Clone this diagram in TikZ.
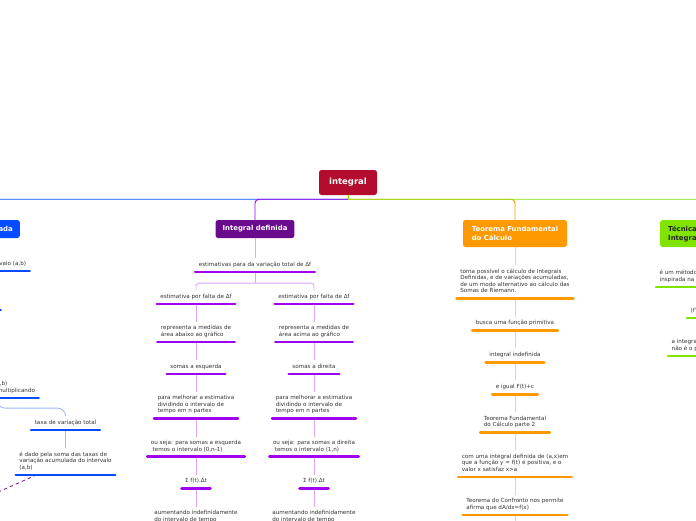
\documentclass[tikz,border=0pt]{standalone}
\usepackage{fontspec}
\setmainfont{DejaVu Sans}
\usetikzlibrary{positioning}
\definecolor{rootred}{RGB}{180,12,45}
\definecolor{defpurple}{RGB}{106,10,140}
\definecolor{vivpurple}{RGB}{160,0,240}
\definecolor{palepurple}{RGB}{218,165,250}
\definecolor{tfcorange}{RGB}{255,153,0}
\definecolor{paleorange}{RGB}{255,205,140}
\definecolor{acumblue}{RGB}{5,75,255}
\definecolor{paleblue}{RGB}{160,185,255}
\definecolor{tecgreen}{RGB}{128,228,0}
\definecolor{palegreen}{RGB}{195,240,140}
\definecolor{relpurple}{RGB}{112,48,160}
\definecolor{leaftext}{RGB}{50,50,50}
\newcommand{\leaffont}{\fontsize{5.6}{6.5}\selectfont}
\newcommand{\topicfont}{\fontsize{6.9}{9}\selectfont\bfseries}

\begin{document}
\begin{tikzpicture}[
  x=1pt, y=-1pt,
  topic/.style={rounded corners=2.5pt, text=white, font=\topicfont, align=left, inner xsep=7pt, minimum height=18pt},
  leaf/.style={font=\leaffont, text=leaftext, align=left, inner xsep=3.5pt, inner ysep=3.5pt,
    execute at begin node=\strut, execute at end node=\strut},
  uline/.style={line width=2.6pt, line cap=round, draw=#1},
  trunk/.style={line width=0.9pt, draw=#1, rounded corners=4pt},
  lnk/.style={line width=0.9pt, draw=#1},
  rel/.style={draw=relpurple, line width=0.9pt, dash pattern=on 3.5pt off 3pt}
]
\path[use as bounding box, clip] (0,0) rectangle (696,520);

% central topic and main branches
\node[topic, fill=rootred, font=\fontsize{8.5}{10}\selectfont\bfseries, minimum width=58pt, minimum height=25pt] (root) at (348,182.5) {integral};
\node[topic, fill=acumblue, anchor=east] (acum) at (20,229) {Variação acumulada};
\node[topic, fill=defpurple] (def) at (255,229) {Integral definida};
\node[topic, fill=tfcorange, minimum width=104pt, minimum height=27pt] (tfc) at (515,233.5) {Teorema Fundamental\\do Cálculo};
\node[topic, fill=tecgreen, text=black!85, text width=86pt, inner xsep=8pt, minimum height=27pt, anchor=west] (tecnicas) at (660,233.5) {Técnicas de\\Integração};
\coordinate[below=4pt of root] (hub);

\draw[trunk=acumblue] (hub) -| (acum.north);
\draw[trunk=vivpurple] (hub) -| (def.north);
\draw[trunk=tfcorange] (hub) -| (tfc.north);
\draw[trunk=tecgreen] (hub) -| (tecnicas.north);
\draw[lnk=tecgreen] (root.south) -- (hub);

% Integral definida
\node[leaf, below=20pt of def] (est) {estimativas para da variação total de Δf};
\coordinate[below=11pt of est] (split);
\node[leaf, below=18pt of est, xshift=-59pt] (faltaE) {estimativa por falta de Δf};
\node[leaf, below=18pt of faltaE] (abaixo) {representa a medidas de\\área abaixo ao gráfico};
\node[leaf, below=18pt of abaixo] (somaEsq) {somas a esquerda};
\node[leaf, below=18pt of somaEsq] (melhorE) {para melhorar a estimativa\\dividindo o intervalo de\\tempo em n partes};
\node[leaf, below=18pt of melhorE] (sejaE) {ou seja: para somas a esquerda\\\ temos o intervalo (0,n-1)};
\node[leaf, below=18pt of sejaE] (sigmaE) {Σ f(t).Δt};
\node[leaf, below=18pt of sigmaE] (aumE) {aumentando indefinidamente\\do intervalo de tempo};
\node[leaf, below=18pt of est, xshift=59pt] (faltaD) {estimativa por falta de Δf};
\node[leaf, below=18pt of faltaD] (acima) {representa a medidas de\\área acima ao gráfico};
\node[leaf, below=18pt of acima] (somaDir) {somas a direita};
\node[leaf, below=18pt of somaDir] (melhorD) {para melhorar a estimativa\\dividindo o intervalo de\\tempo em n partes};
\node[leaf, below=18pt of melhorD] (sejaD) {ou seja: para somas a direita\\\ temos o intervalo (1,n)};
\node[leaf, below=18pt of sejaD] (sigmaD) {Σ f(t).Δt};
\node[leaf, below=18pt of sigmaD] (aumD) {aumentando indefinidamente\\do intervalo de tempo};

\draw[lnk=palepurple] (def.south) -- (est.north);
\draw[lnk=palepurple] (est.south) -- (split);
\draw[lnk=palepurple, rounded corners=3pt] (faltaE.north) |- (split) -| (faltaD.north);
\foreach \a/\b in {faltaE/abaixo, abaixo/somaEsq, somaEsq/melhorE, melhorE/sejaE, sejaE/sigmaE, sigmaE/aumE,
                   faltaD/acima, acima/somaDir, somaDir/melhorD, melhorD/sejaD, sejaD/sigmaD, sigmaD/aumD}
  \draw[lnk=palepurple] (\a.south) -- (\b.north);
\foreach \n in {est, faltaE, abaixo, somaEsq, melhorE, sejaE, sigmaE, aumE,
                faltaD, acima, somaDir, melhorD, sejaD, sigmaD, aumD}
  \draw[uline=vivpurple] (\n.south west) -- (\n.south east);

% Teorema Fundamental do Calculo
\node[leaf, below=18pt of tfc] (torna) {torna possível o cálculo de Integrais\\Definidas, e de variações acumuladas,\\de um modo alternativo ao cálculo das\\Somas de Riemann.};
\node[leaf, below=18pt of torna] (busca) {busca uma função primitiva};
\node[leaf, below=18pt of busca] (indef) {integral indefinida};
\node[leaf, below=18pt of indef] (igual) {e igual F(t)+c};
\node[leaf, below=18pt of igual] (parte2) {Teorema Fundamental\\do Cálculo parte 2};
\node[leaf, below=18pt of parte2] (comint) {com uma integral definida de (a,x)em\\que a função y = f(t) é positiva, e o\\valor x satisfaz x>a};
\node[leaf, below=18pt of comint] (confronto) {Teorema do Confronto nos permite\\afirma que dA/dx=f(x)};
\coordinate[below=18pt of confronto] (tfcmore);

\draw[lnk=paleorange] (tfc.south) -- (torna.north);
\foreach \a/\b in {torna/busca, busca/indef, indef/igual, igual/parte2, parte2/comint, comint/confronto}
  \draw[lnk=paleorange] (\a.south) -- (\b.north);
\draw[lnk=paleorange] (confronto.south) -- (tfcmore);
\foreach \n in {torna, busca, indef, igual, parte2, comint, confronto}
  \draw[uline=tfcorange] (\n.south west) -- (\n.south east);

% Tecnicas de Integracao
\node[leaf, anchor=south west] (metodo) at (656,287) {é um método de integração\\inspirada na regra do produto};
\node[leaf, anchor=south west] (prod) at (687,318) {(f'g + fg')};
\node[leaf, anchor=south west] (integ) at (668,356) {a integral do produto\\não é o produto das integrais};
\draw[lnk=palegreen] (tecnicas.south) -- (metodo.north);
\draw[lnk=palegreen] (metodo.south) -- (prod.north);
\draw[lnk=palegreen] (prod.south) -- (integ.north);
\foreach \n in {metodo, prod, integ}
  \draw[uline=tecgreen] (\n.south west) -- (\n.south east);

% Variacao acumulada
\node[leaf, anchor=south east] (intervalo) at (29.7,271) {a variação total no intervalo (a,b)};
\node[leaf, anchor=south east] (bdot) at (0.7,310) {é a integral definida};
\node[leaf, anchor=south east] (mult) at (38.7,398) {no intervalo (a,b)\\sendo obtida multiplicando};
\node[leaf, anchor=south] (taxa) at (65.5,430) {taxa de variação total};
\node[leaf, below=18pt of taxa] (dado) {é dado pela soma das taxas de\\variação acumulada do intervalo\\(a,b)};
\coordinate (relend) at (-40,509);

\draw[lnk=paleblue] (acum.south) -- (intervalo.north);
\draw[lnk=paleblue] (intervalo.south) -- (bdot.north);
\draw[lnk=paleblue] (bdot.south) -- (mult.north);
\draw[lnk=paleblue, rounded corners=8pt] (mult.south) |- ([yshift=8pt]taxa.north) -- (taxa.north);
\draw[lnk=paleblue] (taxa.south) -- (dado.north);
\draw[rel] ([xshift=21pt]dado.south west) -- (relend);
\foreach \n in {intervalo, bdot, mult, taxa, dado}
  \draw[uline=acumblue] (\n.south west) -- (\n.south east);
\end{tikzpicture}
\end{document}
